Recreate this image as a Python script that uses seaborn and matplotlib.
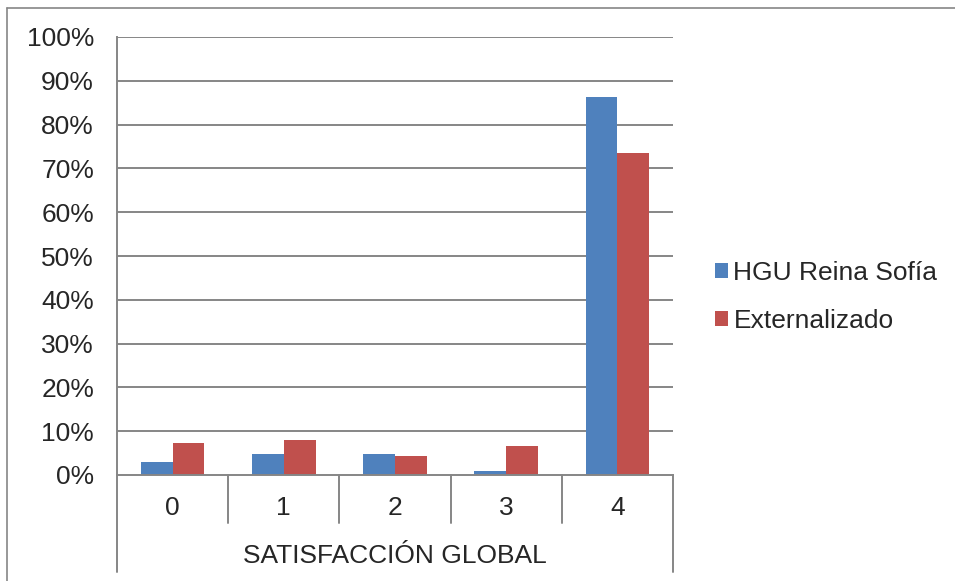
import matplotlib
matplotlib.use("Agg")
import matplotlib.pyplot as plt
from matplotlib.lines import Line2D
import pandas as pd
import seaborn as sns

# Survey data: share of responses per global-satisfaction score (%)
categories = ["0", "1", "2", "3", "4"]
series_names = ["HGU Reina Sofía", "Externalizado"]
hgu_values = [3.0, 4.9, 4.9, 1.0, 86.3]
ext_values = [7.4, 8.1, 4.4, 6.6, 73.5]
y_ticks = [0, 10, 20, 30, 40, 50, 60, 70, 80, 90, 100]
axis_title = "SATISFACCIÓN GLOBAL"
colors = ["#4F81BD", "#C0504D"]

df = pd.DataFrame({
    "cat": categories * 2,
    "serie": [series_names[0]] * len(categories) + [series_names[1]] * len(categories),
    "valor": hgu_values + ext_values,
})

sns.set_style("white")
plt.rcParams["font.family"] = ["Liberation Sans", "DejaVu Sans"]

W, H = 955, 581
fig = plt.figure(figsize=(W / 100, H / 100), dpi=100)
left, right, top, bottom = 117, 673, 37, 475
ax = fig.add_axes([left / W, 1 - bottom / H, (right - left) / W, (bottom - top) / H])

grid_c = "#868686"
fs = 19

sns.barplot(data=df, x="cat", y="valor", hue="serie", order=categories,
            hue_order=series_names, palette=colors, saturation=1,
            width=2 / 3.5, gap=0, ax=ax, legend=True, errorbar=None,
            linewidth=0, edgecolor="none")

ax.set_xlim(-0.5, len(categories) - 0.5)
ax.set_ylim(0, 100)
ax.set_yticks(y_ticks)
ax.set_yticklabels([f"{v}%" for v in y_ticks], fontsize=fs)
ax.tick_params(axis="y", length=6.5, width=1.2, color=grid_c, pad=10)
ax.set_xticks([])
ax.set_xlabel("")
ax.set_ylabel("")

for v in y_ticks[1:]:
    ax.axhline(v, color=grid_c, lw=1.4, zorder=0)

for side in ["top", "right"]:
    ax.spines[side].set_visible(False)
ax.spines["left"].set_color(grid_c)
ax.spines["left"].set_linewidth(1.4)
ax.spines["bottom"].set_color(grid_c)
ax.spines["bottom"].set_linewidth(1.4)

# Two-level category axis: separators between categories and an outer frame
ph = bottom - top
tr = ax.get_xaxis_transform()
inner_end = -48 / ph
outer_end = -97 / ph
for i in range(1, len(categories)):
    ax.plot([i - 0.5, i - 0.5], [0, inner_end], color=grid_c, lw=1.4,
            transform=tr, clip_on=False)
for xe in [-0.5, len(categories) - 0.5]:
    ax.plot([xe, xe], [0, outer_end], color=grid_c, lw=1.4,
            transform=tr, clip_on=False)
for i, c in enumerate(categories):
    ax.text(i, -33 / ph, c, transform=tr, ha="center", va="center", fontsize=fs)
ax.text(0.5, -81 / ph, axis_title, transform=ax.transAxes,
        ha="center", va="center", fontsize=fs)

# Legend at the right of the plot
handles, labels = ax.get_legend_handles_labels()
ax.legend(handles, labels, loc="center left",
          bbox_to_anchor=(715 / W, 1 - 297 / H), bbox_transform=fig.transFigure,
          frameon=False, fontsize=fs, handlelength=0.5, handleheight=0.5,
          handletextpad=0.2, labelspacing=0.9, borderpad=0, borderaxespad=0)

# Chart area border (top and left edges visible)
fig.add_artist(Line2D([7 / W, 1], [1 - 8 / H, 1 - 8 / H], color=grid_c, lw=1.2))
fig.add_artist(Line2D([7 / W, 7 / W], [0, 1 - 8 / H], color=grid_c, lw=1.2))

fig.savefig("out.png", dpi=100)
